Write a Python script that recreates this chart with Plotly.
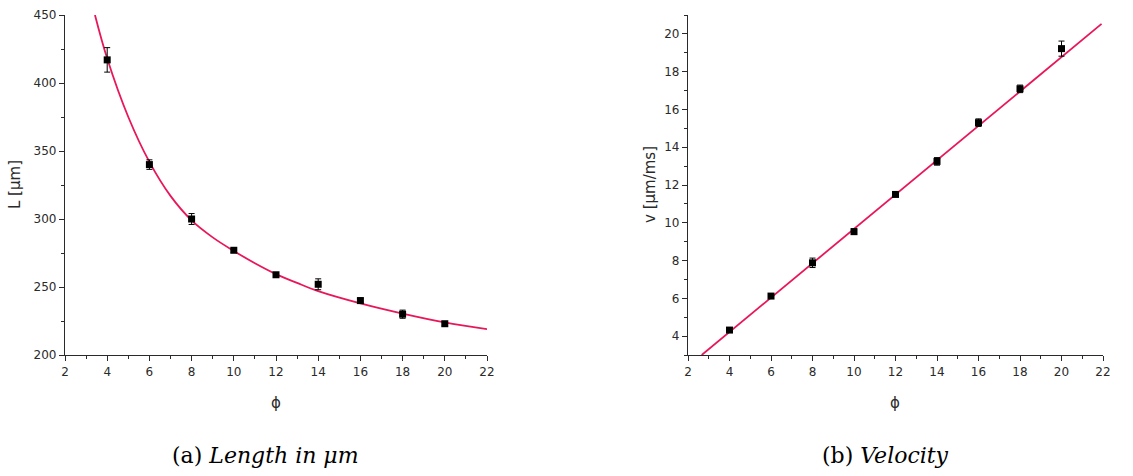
import plotly.graph_objects as go

# ---- data: panel (a) length ----
phi = [4, 6, 8, 10, 12, 14, 16, 18, 20]
length_um = [417, 340, 300, 277, 259, 252, 240, 230, 223]
length_err = [9, 3.5, 4, 1.5, 1, 4, 2, 3, 1.5]
# fitted curve
fit_phi = [3.42, 4, 5, 6, 7, 8, 9, 10, 11, 12, 13, 14, 16, 18, 20, 22]
fit_len = [450, 418, 375, 342, 317, 299, 286.5, 276.5, 267.5, 259.5, 253, 247, 238, 230.5, 224, 219]

# ---- data: panel (b) velocity ----
velocity = [4.32, 6.12, 7.88, 9.53, 11.5, 13.25, 15.3, 17.09, 19.22]
velocity_err = [0.1, 0.1, 0.25, 0.15, 0.1, 0.2, 0.2, 0.2, 0.4]
vfit_phi = [2.66, 21.93]
vfit_v = [3.0, 20.53]

x_ticks = [2, 4, 6, 8, 10, 12, 14, 16, 18, 20, 22]
L_ticks = [200, 250, 300, 350, 400, 450]
v_ticks = [4, 6, 8, 10, 12, 14, 16, 18, 20]

RED = "#e8175a"
AX = "#2a2a2a"
W, H = 1133, 476

fig = go.Figure()

fig.add_trace(go.Scatter(x=fit_phi, y=fit_len, mode="lines", line=dict(color=RED, width=1.8, shape="spline"),
                         xaxis="x", yaxis="y", showlegend=False, hoverinfo="skip"))
fig.add_trace(go.Scatter(x=phi, y=length_um, mode="markers",
                         marker=dict(symbol="square", size=7, color="black"),
                         error_y=dict(type="data", array=length_err, color="black", thickness=1, width=3),
                         xaxis="x", yaxis="y", showlegend=False))

fig.add_trace(go.Scatter(x=vfit_phi, y=vfit_v, mode="lines", line=dict(color=RED, width=1.8),
                         xaxis="x2", yaxis="y2", showlegend=False, hoverinfo="skip"))
fig.add_trace(go.Scatter(x=phi, y=velocity, mode="markers",
                         marker=dict(symbol="square", size=7, color="black"),
                         error_y=dict(type="data", array=velocity_err, color="black", thickness=1, width=3),
                         xaxis="x2", yaxis="y2", showlegend=False))

tickfont = dict(family="DejaVu Sans, sans-serif", size=12, color=AX)

def xax(domain, anchor):
    return dict(domain=domain, anchor=anchor, range=[2, 22], tickvals=x_ticks,
                showline=True, linecolor=AX, linewidth=1.3, ticks="outside", ticklen=5,
                tickcolor=AX, tickwidth=1.2, showgrid=False, zeroline=False, tickfont=tickfont,
                automargin=False,
                minor=dict(dtick=1, tick0=0, ticks="outside", ticklen=3, tickcolor=AX, showgrid=False))

def yax(domain, anchor, rng, tv, mdt):
    return dict(domain=domain, anchor=anchor, range=rng, tickvals=tv,
                showline=True, linecolor=AX, linewidth=1.3, ticks="outside", ticklen=5,
                tickcolor=AX, tickwidth=1.2, showgrid=False, zeroline=False, tickfont=tickfont,
                automargin=False,
                minor=dict(dtick=mdt, tick0=0, ticks="outside", ticklen=3, tickcolor=AX, showgrid=False))

ydom = [(H - 355) / H, (H - 15) / H]
fig.update_layout(
    width=W, height=H, margin=dict(l=0, r=0, t=0, b=0),
    paper_bgcolor="white", plot_bgcolor="white",
    xaxis=xax([65 / W, 487 / W], "y"),
    yaxis=yax(ydom, "x", [200, 450], L_ticks, 25),
    xaxis2=xax([688 / W, 1103 / W], "y2"),
    yaxis2=yax(ydom, "x2", [3, 21], v_ticks, 1),
)

lab = dict(family="DejaVu Sans, sans-serif", size=15, color=AX)
cap = dict(family="DejaVu Serif, serif", size=22, color="black")
ann = [
    dict(text="L [μm]", x=15 / W, y=(H - 185) / H, textangle=-90, font=lab),
    dict(text="ϕ", x=276 / W, y=(H - 403) / H, font=lab),
    dict(text="v [μm/ms]", x=650 / W, y=(H - 185) / H, textangle=-90, font=lab),
    dict(text="ϕ", x=895 / W, y=(H - 403) / H, font=lab),
    dict(text="(a) <i>Length in μm</i>", x=265 / W, y=(H - 455) / H, font=cap),
    dict(text="(b) <i>Velocity</i>", x=885 / W, y=(H - 455) / H, font=cap),
]
for a in ann:
    a.update(xref="paper", yref="paper", showarrow=False, xanchor="center", yanchor="middle")
fig.update_layout(annotations=ann)

fig.write_html("out.html", post_script="document.body.style.margin='0';document.body.style.padding='0';")
